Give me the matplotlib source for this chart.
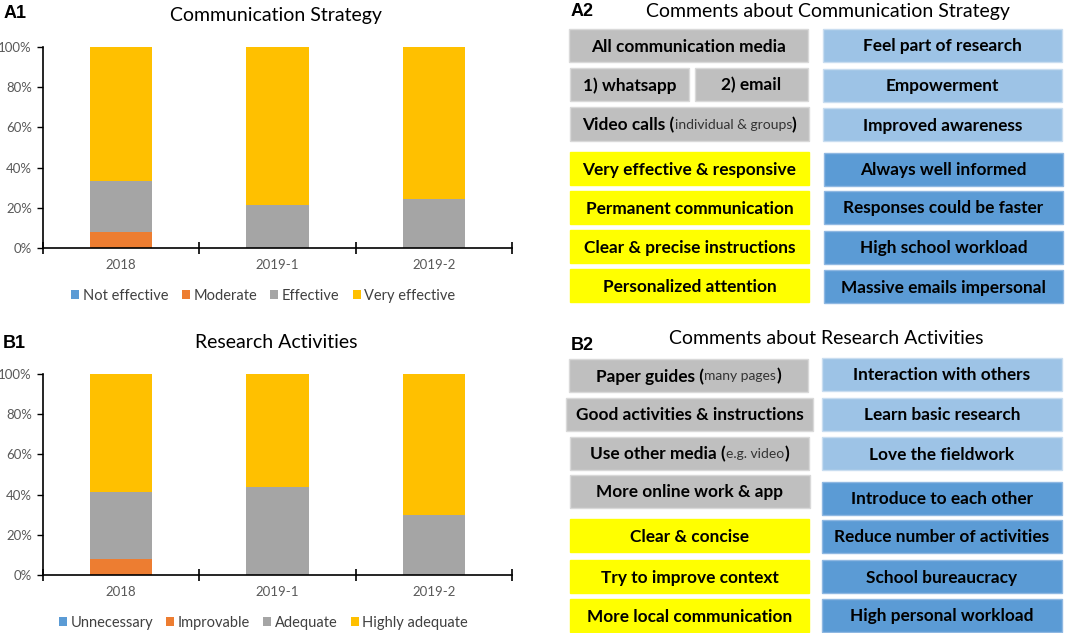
import numpy as np
import matplotlib.pyplot as plt
from matplotlib.patches import Rectangle

plt.rcParams['font.family'] = ['Lato', 'DejaVu Sans']

# ---- data ----
years = ["2018", "2019-1", "2019-2"]

comm_levels = ["Not effective", "Moderate", "Effective", "Very effective"]
comm_not_effective = [0, 0, 0]
comm_moderate = [8.2, 0, 0]
comm_effective = [25.2, 21.6, 24.3]
comm_very_effective = [66.6, 78.4, 75.7]

act_levels = ["Unnecessary", "Improvable", "Adequate", "Highly adequate"]
act_unnecessary = [0, 0, 0]
act_improvable = [8.1, 0, 0]
act_adequate = [33.4, 43.9, 29.7]
act_highly_adequate = [58.5, 56.1, 70.3]

# comments ({...} = small regular text)
comm_media = ["All communication media", "1) whatsapp", "2) email",
              "Video calls ({individual & groups})"]
comm_yellow = ["Very effective & responsive", "Permanent communication",
               "Clear & precise instructions", "Personalized attention"]
comm_light = ["Feel part of research", "Empowerment", "Improved awareness"]
comm_dark = ["Always well informed", "Responses could be faster",
             "High school workload", "Massive emails impersonal"]

act_gray = ["Paper guides ({many pages})", "Good activities & instructions",
            "Use other media ({e.g. video})", "More online work & app"]
act_yellow = ["Clear & concise", "Try to improve context", "More local communication"]
act_light = ["Interaction with others", "Learn basic research", "Love the fieldwork"]
act_dark = ["Introduce to each other", "Reduce number of activities",
            "School bureaucracy", "High personal workload"]

bar_colors = ["#5B9BD5", "#ED7D31", "#A5A5A5", "#FFC000"]
GRAY, YELLOW, LIGHT, DARK = "#BFBFBF", "#FFFF00", "#9DC3E6", "#5B9BD5"

W, H = 1065, 633
fig = plt.figure(figsize=(W / 100, H / 100), dpi=100)


def stacked(top_px, series, labels, legend_y):
    ax = fig.add_axes([43 / W, 1 - (top_px + 201) / H, 469 / W, 201 / H])
    x = np.arange(len(years))
    bottom = np.zeros(len(years))
    for vals, lab, col in zip(series, labels, bar_colors):
        ax.bar(x, vals, 0.4, bottom=bottom, color=col, label=lab)
        bottom += np.array(vals)
    ax.set_xlim(-0.5, 2.5)
    ax.set_ylim(0, 100)
    ax.set_yticks(np.arange(0, 101, 20))
    ax.set_yticklabels([f"{v}%" for v in range(0, 101, 20)])
    ax.set_xticks(x)
    ax.set_xticklabels(years)
    ax.set_xticks([-0.5, 0.5, 1.5, 2.5], minor=True)
    ax.tick_params(axis='x', which='major', length=0, pad=8, labelsize=9.5, labelcolor="#595959")
    ax.tick_params(axis='x', which='minor', length=9, direction='inout', width=1.2)
    ax.tick_params(axis='y', length=4, width=1, pad=4, labelsize=9.5, labelcolor="#595959")
    for s in ["top", "right"]:
        ax.spines[s].set_visible(False)
    ax.spines["left"].set_linewidth(1.2)
    ax.spines["bottom"].set_linewidth(1.2)
    ax.legend(loc='center', bbox_to_anchor=(0.47, 1 - (legend_y - top_px) / 201),
              ncol=4, frameon=False, fontsize=10.5, handlelength=0.55, handleheight=0.55,
              handletextpad=0.25, columnspacing=0.9, labelcolor="#404040")
    return ax


stacked(47, [comm_not_effective, comm_moderate, comm_effective, comm_very_effective],
        comm_levels, 296)
stacked(374, [act_unnecessary, act_improvable, act_adequate, act_highly_adequate],
        act_levels, 623)

fig.text(276 / W, 1 - 16 / H, "Communication Strategy", ha='center', va='center', fontsize=14)
fig.text(276 / W, 1 - 343 / H, "Research Activities", ha='center', va='center', fontsize=14)
fig.text(828 / W, 1 - 11 / H, "Comments about Communication Strategy", ha='center', va='center', fontsize=14)
fig.text(826 / W, 1 - 338 / H, "Comments about Research Activities", ha='center', va='center', fontsize=14)
for tag, xp, yp in [("A1", 4, 13), ("B1", 3, 344), ("A2", 571, 12), ("B2", 571, 345)]:
    fig.text(xp / W, 1 - yp / H, tag, ha='left', va='center', fontsize=13,
             fontweight='bold', family='Liberation Sans')

# ---- comment boxes, drawn in pixel coordinates ----
bx = fig.add_axes([0, 0, 1, 1], zorder=-1)
bx.set_xlim(0, W)
bx.set_ylim(H, 0)
bx.axis('off')
renderer = fig.canvas.get_renderer()


def split_text(s):
    parts = []
    while "{" in s:
        a, rest = s.split("{", 1)
        b, s = rest.split("}", 1)
        parts += [(a, True), (b, False)]
    parts.append((s, True))
    return [p for p in parts if p[0]]


def box(x0, y0, x1, text, color, h=33):
    edge = "#D9D9D9" if color == GRAY else ("#C9DDF0" if color == LIGHT else "#8FB8E2")
    if color == YELLOW:
        edge = YELLOW
    bx.add_patch(Rectangle((x0, y0), x1 - x0, h, facecolor=color, edgecolor=edge, lw=1))
    items = []
    for s, big in split_text(text):
        t = bx.text(0, y0 + h / 2 + 1, s, va='center', ha='left',
                    fontsize=12.4 if big else 10,
                    fontweight='bold' if big else 'normal',
                    color="black" if big else "#333333")
        items.append(t)
    widths = [t.get_window_extent(renderer).width for t in items]
    xs = (x0 + x1) / 2 - sum(widths) / 2
    for t, w in zip(items, widths):
        t.set_x(xs)
        xs += w


# A2
box(569, 29, 808, comm_media[0], GRAY)
box(570, 68, 689, comm_media[1], GRAY)
box(695, 68, 808, comm_media[2], GRAY)
box(570, 107, 809, comm_media[3], GRAY, 34)
for txt, top in zip(comm_yellow, [152, 191, 230, 269]):
    box(570, top, 809, txt, YELLOW)
for txt, top in zip(comm_light, [29, 69, 108]):
    box(823, top, 1062, txt, LIGHT)
for txt, top in zip(comm_dark, [153, 191, 231, 270]):
    box(824, top, 1063, txt, DARK)

# B2
for txt, top, x0, x1 in zip(act_gray, [359, 398, 437, 475], [569, 566, 570, 570], [808, 813, 809, 810]):
    box(x0, top, x1, txt, GRAY)
for txt, top in zip(act_yellow, [519, 560, 599]):
    box(570, top, 809, txt, YELLOW)
for txt, top in zip(act_light, [358, 398, 437]):
    box(822, top, 1062, txt, LIGHT)
for txt, top in zip(act_dark, [482, 520, 560, 599]):
    box(822, top, 1062, txt, DARK)

fig.savefig("out.png", dpi=100)
